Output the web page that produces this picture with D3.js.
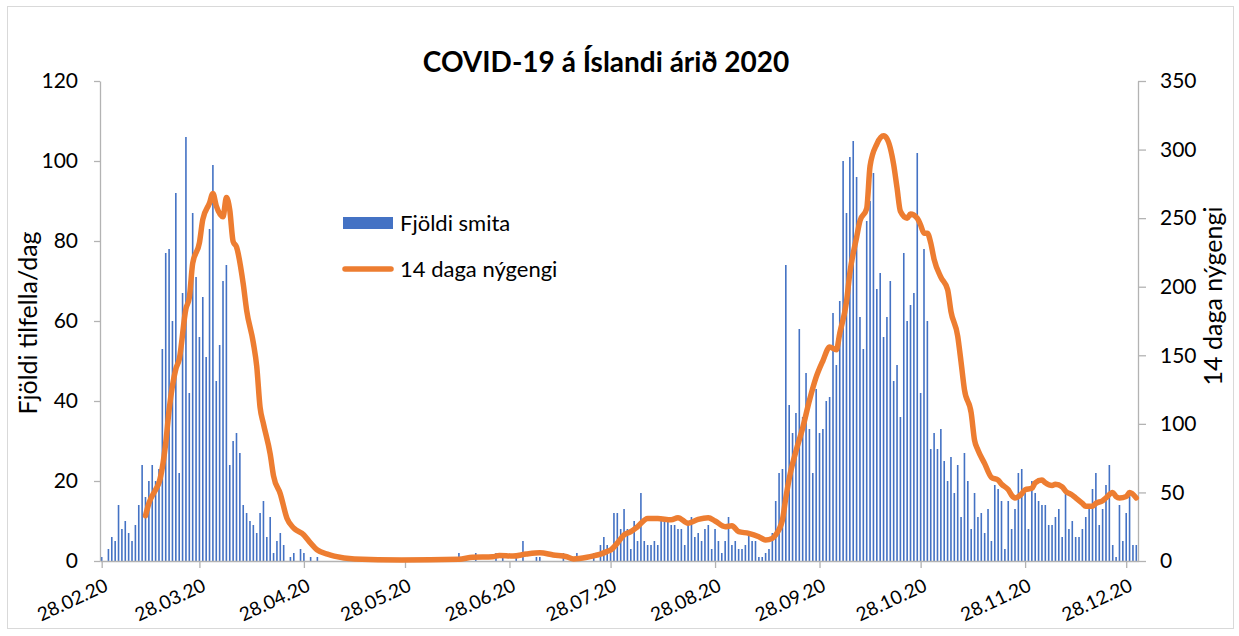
<!DOCTYPE html>
<html>
<head>
<meta charset="utf-8">
<script src="https://cdn.jsdelivr.net/npm/d3@7"></script>
<style>
    body { margin: 0; background: #fff; }
    svg text { font-family: Lato, "Noto Sans", sans-serif; fill: #000; }
</style>
</head>
<body>
<svg id="chart" width="1239" height="636"></svg>
<script>
// Daily cases from 28.02.2020 to 31.12.2020 (one value per day)
const startDate = '2020-02-28';
const dailyCases = [
    1, 0, 3, 6, 5, 14, 8, 10, 7, 5,
    9, 14, 24, 16, 20, 24, 20, 23, 53, 77,
    78, 60, 92, 22, 67, 106, 42, 87, 71, 56,
    66, 51, 83, 99, 45, 54, 70, 74, 24, 30,
    32, 27, 14, 12, 10, 9, 7, 12, 15, 6,
    11, 2, 5, 7, 4, 0, 1, 2, 0, 3,
    2, 0, 1, 0, 1, 0, 0, 0, 0, 0,
    0, 0, 0, 0, 0, 0, 0, 0, 0, 0,
    0, 0, 0, 0, 0, 0, 0, 0, 0, 0,
    0, 0, 0, 0, 0, 0, 0, 0, 0, 0,
    0, 0, 0, 0, 0, 0, 2, 0, 0, 0,
    0, 2, 0, 0, 0, 0, 0, 2, 0, 2,
    0, 0, 0, 2, 0, 5, 0, 0, 0, 1,
    1, 0, 0, 0, 0, 0, 0, 2, 0, 0,
    0, 2, 0, 0, 0, 0, 2, 0, 4, 6,
    4, 2, 12, 12, 8, 13, 8, 3, 10, 5,
    17, 5, 4, 4, 5, 4, 10, 10, 10, 9,
    9, 8, 8, 4, 9, 11, 6, 7, 5, 8,
    9, 3, 8, 5, 2, 5, 11, 4, 5, 3,
    3, 4, 7, 5, 5, 1, 1, 2, 3, 7,
    15, 22, 23, 74, 39, 32, 37, 58, 36, 47,
    33, 22, 43, 32, 33, 40, 41, 62, 49, 65,
    100, 87, 101, 105, 96, 61, 53, 85, 90, 97,
    68, 72, 56, 61, 70, 45, 49, 36, 77, 60,
    64, 67, 102, 42, 78, 60, 28, 32, 28, 33,
    25, 20, 26, 17, 24, 11, 27, 20, 8, 17,
    11, 12, 7, 13, 5, 19, 18, 15, 3, 15,
    8, 13, 22, 23, 17, 8, 20, 17, 15, 14,
    14, 9, 9, 11, 13, 6, 17, 8, 10, 6,
    6, 8, 11, 13, 18, 22, 9, 13, 19, 24,
    4, 1, 14, 5, 12, 17, 4, 4
];

// 14 daga nýgengi: day offset from 28.02.2020 and value
const incidenceDays = [
    13, 14, 16, 17, 19, 20, 22, 23, 25, 26, 27, 29, 30, 32, 33, 34, 36, 37, 38, 39,
    40, 42, 43, 45, 46, 47, 48, 50, 51, 53, 55, 57, 60, 62, 64, 67, 69, 75, 89, 106,
    110, 116, 118, 122, 126, 130, 134, 138, 140, 144, 147, 148, 150, 151, 153, 155, 157, 159, 162, 165,
    169, 171, 174, 177, 180, 182, 185, 187, 189, 192, 195, 197, 199, 200, 201, 202, 203, 204, 206, 208,
    210, 212, 214, 216, 218, 219, 221, 222, 224, 225, 227, 228, 230, 232, 233, 235, 236, 237, 239, 240,
    242, 243, 244, 245, 246, 247, 249, 251, 252, 254, 255, 256, 258, 259, 260, 262, 264, 266, 267, 269,
    270, 271, 273, 274, 276, 277, 279, 280, 282, 283, 285, 286, 288, 289, 291, 292, 294, 295, 297, 298,
    300, 301, 302, 304, 305, 307
];
const incidenceValues = [
    33, 42, 52, 57, 86, 110, 140, 147, 184, 192, 217, 232, 249, 261, 268, 259, 251, 265, 256, 233,
    229, 202, 183, 159, 142, 112, 100, 78, 62, 49, 31, 24, 19, 13, 8, 5, 3.6, 1.5, 0.7, 1.2,
    2.7, 3.1, 4.1, 3.6, 5.1, 6, 4.4, 3.1, 1.5, 2.7, 4.4, 5, 7, 8, 13, 19, 21.4, 25, 31, 31,
    30, 31.6, 27.5, 30.4, 31.6, 29.2, 25, 25.7, 21.4, 20.2, 17.7, 15.3, 16.5, 19, 23, 30, 46, 60, 80, 97,
    117, 134, 146, 156, 154, 166, 189, 210, 236, 248, 257, 288, 304, 310, 308, 289, 272, 255, 250, 253,
    250, 245, 239, 239, 232, 220, 207, 198, 182, 164, 145, 125, 108, 88, 81, 71, 61, 59, 56, 52,
    48, 46, 49, 52, 53, 57, 59, 57, 55, 56, 54, 51, 48, 46, 42, 40, 40, 42, 44, 46,
    50, 47, 46, 47, 50, 46
];

const tickDates = ['2020-02-28', '2020-03-28', '2020-04-28', '2020-05-28', '2020-06-28',
    '2020-07-28', '2020-08-28', '2020-09-28', '2020-10-28', '2020-11-28', '2020-12-28'];
const leftTicks = [0, 20, 40, 60, 80, 100, 120];
const rightTicks = [0, 50, 100, 150, 200, 250, 300, 350];

const parse = d3.utcParse('%Y-%m-%d');
const start = parse(startDate);
const dayDate = i => d3.utcDay.offset(start, i);

const plot = { left: 100, right: 1138, top: 81, bottom: 561 };

const svg = d3.select('#chart');

// Outer chart frame
svg.append('rect')
    .attr('x', 7.5).attr('y', 6.5)
    .attr('width', 1226).attr('height', 622)
    .attr('fill', 'none')
    .attr('stroke', '#d9d9d9');

// Scales
const x = d3.scaleUtc()
    .domain([d3.utcHour.offset(start, -12), d3.utcHour.offset(dayDate(dailyCases.length - 1), 12)])
    .range([plot.left, plot.right]);
const yLeft = d3.scaleLinear().domain([0, 120]).range([plot.bottom, plot.top]);
const yRight = d3.scaleLinear().domain([0, 350]).range([plot.bottom, plot.top]);

// Bars
svg.append('g')
    .selectAll('rect')
    .data(dailyCases)
    .join('rect')
    .attr('x', (d, i) => x(dayDate(i)) - 0.8)
    .attr('width', 1.6)
    .attr('y', d => yLeft(d))
    .attr('height', d => yLeft(0) - yLeft(d))
    .attr('fill', '#4472c4');

// Axes
const axisColor = '#b3b3b3';

const xAxis = svg.append('g')
    .attr('transform', `translate(0,${plot.bottom})`)
    .call(d3.axisBottom(x)
        .tickValues(tickDates.map(parse))
        .tickFormat(d3.utcFormat('%d.%m.%y'))
        .tickSize(7)
        .tickSizeOuter(0));
xAxis.selectAll('text')
    .attr('font-size', '19px')
    .attr('text-anchor', 'end')
    .attr('dy', 0)
    .attr('y', 0)
    .attr('transform', 'translate(7,29) rotate(-25)');

const leftAxis = svg.append('g')
    .attr('transform', `translate(${plot.left},0)`)
    .call(d3.axisLeft(yLeft).tickValues(leftTicks).tickSize(6).tickPadding(16).tickSizeOuter(0));
leftAxis.selectAll('text').attr('font-size', '21px');

const rightAxis = svg.append('g')
    .attr('transform', `translate(${plot.right},0)`)
    .call(d3.axisRight(yRight).tickValues(rightTicks).tickSize(8).tickPadding(14).tickSizeOuter(0));
rightAxis.selectAll('text').attr('font-size', '21px');

[xAxis, leftAxis, rightAxis].forEach(g => {
    g.select('.domain').attr('stroke', axisColor).attr('stroke-width', 1.3);
    g.selectAll('.tick line').attr('stroke', axisColor).attr('stroke-width', 1.3);
    g.selectAll('text').attr('fill', '#000');
});

// 14-day incidence line
const line = d3.line()
    .x((d, i) => x(dayDate(incidenceDays[i])))
    .y(d => yRight(d))
    .curve(d3.curveMonotoneX);

svg.append('path')
    .datum(incidenceValues)
    .attr('d', line)
    .attr('fill', 'none')
    .attr('stroke', '#ed7d31')
    .attr('stroke-width', 5.5)
    .attr('stroke-linejoin', 'round')
    .attr('stroke-linecap', 'round');

// Title
svg.append('text')
    .attr('x', 606).attr('y', 72)
    .attr('text-anchor', 'middle')
    .attr('font-size', '28px')
    .attr('font-weight', 'bold')
    .text('COVID-19 á Íslandi árið 2020');

// Axis titles
svg.append('text')
    .attr('transform', 'translate(37,323) rotate(-90)')
    .attr('text-anchor', 'middle')
    .attr('font-size', '25px')
    .text('Fjöldi tilfella/dag');

svg.append('text')
    .attr('transform', 'translate(1222,296) rotate(-90)')
    .attr('text-anchor', 'middle')
    .attr('font-size', '25px')
    .text('14 daga nýgengi');

// Legend
const legend = svg.append('g').attr('transform', 'translate(343,0)');
legend.append('rect')
    .attr('x', 0).attr('y', 217)
    .attr('width', 50).attr('height', 12)
    .attr('fill', '#4472c4');
legend.append('text')
    .attr('x', 57).attr('y', 223)
    .attr('dy', '0.35em')
    .attr('font-size', '22px')
    .text('Fjöldi smita');
legend.append('line')
    .attr('x1', 2).attr('x2', 48)
    .attr('y1', 269).attr('y2', 269)
    .attr('stroke', '#ed7d31')
    .attr('stroke-width', 5.5)
    .attr('stroke-linecap', 'round');
legend.append('text')
    .attr('x', 57).attr('y', 269)
    .attr('dy', '0.35em')
    .attr('font-size', '22px')
    .text('14 daga nýgengi');
</script>
</body>
</html>
